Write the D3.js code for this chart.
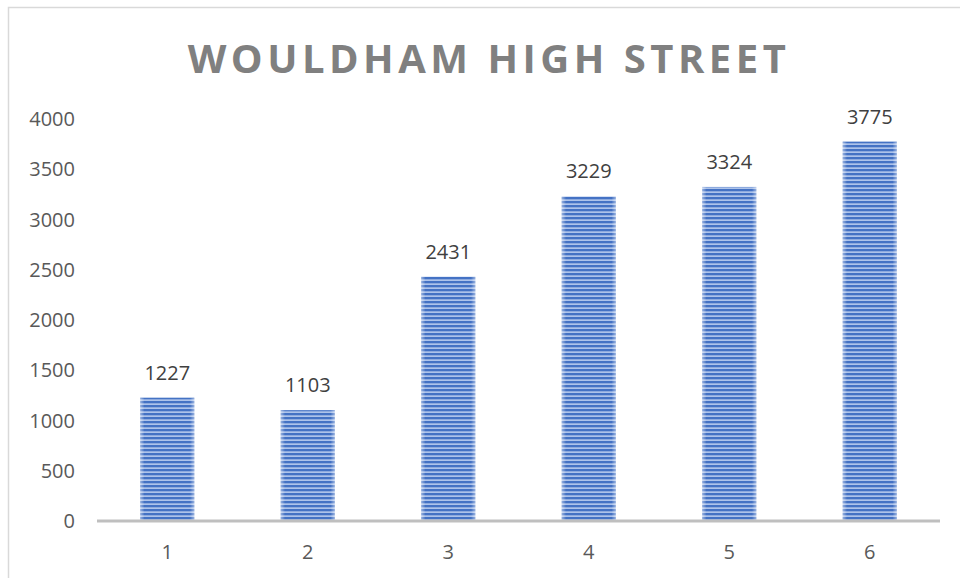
<!DOCTYPE html>
<html>
<head>
<meta charset="utf-8">
<script src="https://cdn.jsdelivr.net/npm/d3@7"></script>
<style>
  body { margin: 0; background: #fff; }
  text { font-family: "Open Sans", "Liberation Sans", sans-serif; }
</style>
</head>
<body>
<svg id="chart" width="960" height="578"></svg>
<script>
const categories = ['1', '2', '3', '4', '5', '6'];
const values = [1227, 1103, 2431, 3229, 3324, 3775];
const yTicks = [0, 500, 1000, 1500, 2000, 2500, 3000, 3500, 4000];
const title = 'WOULDHAM HIGH STREET';

const svg = d3.select('#chart');
const plot = {left: 97, right: 940, top: 119, bottom: 521};

// chart frame
svg.append('rect')
  .attr('x', 8.5).attr('y', 7.5)
  .attr('width', 980).attr('height', 600)
  .attr('fill', 'none')
  .attr('stroke', '#d9d9d9')
  .attr('stroke-width', 1.5);

// striped fill for the bars
const defs = svg.append('defs');
const pat = defs.append('pattern')
  .attr('id', 'stripes')
  .attr('patternUnits', 'userSpaceOnUse')
  .attr('width', 8).attr('height', 4);
pat.append('rect').attr('width', 8).attr('height', 4).attr('fill', '#adc3ea');
pat.append('rect').attr('y', 1).attr('width', 8).attr('height', 2.3).attr('fill', '#4472c4');

const grad = defs.append('linearGradient').attr('id', 'edge');
grad.append('stop').attr('offset', '0').attr('stop-color', '#fff').attr('stop-opacity', 0.45);
grad.append('stop').attr('offset', '0.08').attr('stop-color', '#fff').attr('stop-opacity', 0);
grad.append('stop').attr('offset', '0.92').attr('stop-color', '#fff').attr('stop-opacity', 0);
grad.append('stop').attr('offset', '1').attr('stop-color', '#fff').attr('stop-opacity', 0.45);

const x = d3.scaleBand()
  .domain(categories)
  .range([plot.left, plot.right])
  .paddingInner(0.615)
  .paddingOuter(0.3075);

const y = d3.scaleLinear()
  .domain([0, 4000])
  .range([plot.bottom, plot.top]);

// title
svg.append('text')
  .attr('x', 489).attr('y', 73)
  .attr('text-anchor', 'middle')
  .attr('fill', '#808080')
  .attr('font-size', 40)
  .attr('font-weight', 'bold')
  .attr('letter-spacing', 4.5)
  .text(title);

// y tick labels
svg.append('g')
  .selectAll('text')
  .data(yTicks)
  .join('text')
  .attr('x', 75)
  .attr('y', d => y(d))
  .attr('dy', '0.35em')
  .attr('text-anchor', 'end')
  .attr('fill', '#595959')
  .attr('font-size', 20)
  .text(d => d);

// bars
const bars = svg.append('g');
bars.selectAll('rect.bar')
  .data(values)
  .join('rect')
  .attr('class', 'bar')
  .attr('x', (d, i) => x(categories[i]))
  .attr('y', d => y(d))
  .attr('width', x.bandwidth())
  .attr('height', d => plot.bottom - y(d))
  .attr('fill', 'url(#stripes)');
bars.selectAll('rect.edge')
  .data(values)
  .join('rect')
  .attr('class', 'edge')
  .attr('x', (d, i) => x(categories[i]))
  .attr('y', d => y(d))
  .attr('width', x.bandwidth())
  .attr('height', d => plot.bottom - y(d))
  .attr('fill', 'url(#edge)');

// value labels
svg.append('g')
  .selectAll('text')
  .data(values)
  .join('text')
  .attr('x', (d, i) => x(categories[i]) + x.bandwidth() / 2)
  .attr('y', d => y(d) - 18)
  .attr('text-anchor', 'middle')
  .attr('fill', '#404040')
  .attr('font-size', 20)
  .text(d => d);

// x axis line
svg.append('line')
  .attr('x1', plot.left).attr('x2', plot.right)
  .attr('y1', plot.bottom).attr('y2', plot.bottom)
  .attr('stroke', '#bfbfbf')
  .attr('stroke-width', 3);

// x tick labels
svg.append('g')
  .selectAll('text')
  .data(categories)
  .join('text')
  .attr('x', d => x(d) + x.bandwidth() / 2)
  .attr('y', 559)
  .attr('text-anchor', 'middle')
  .attr('fill', '#595959')
  .attr('font-size', 20)
  .text(d => d);
</script>
</body>
</html>
